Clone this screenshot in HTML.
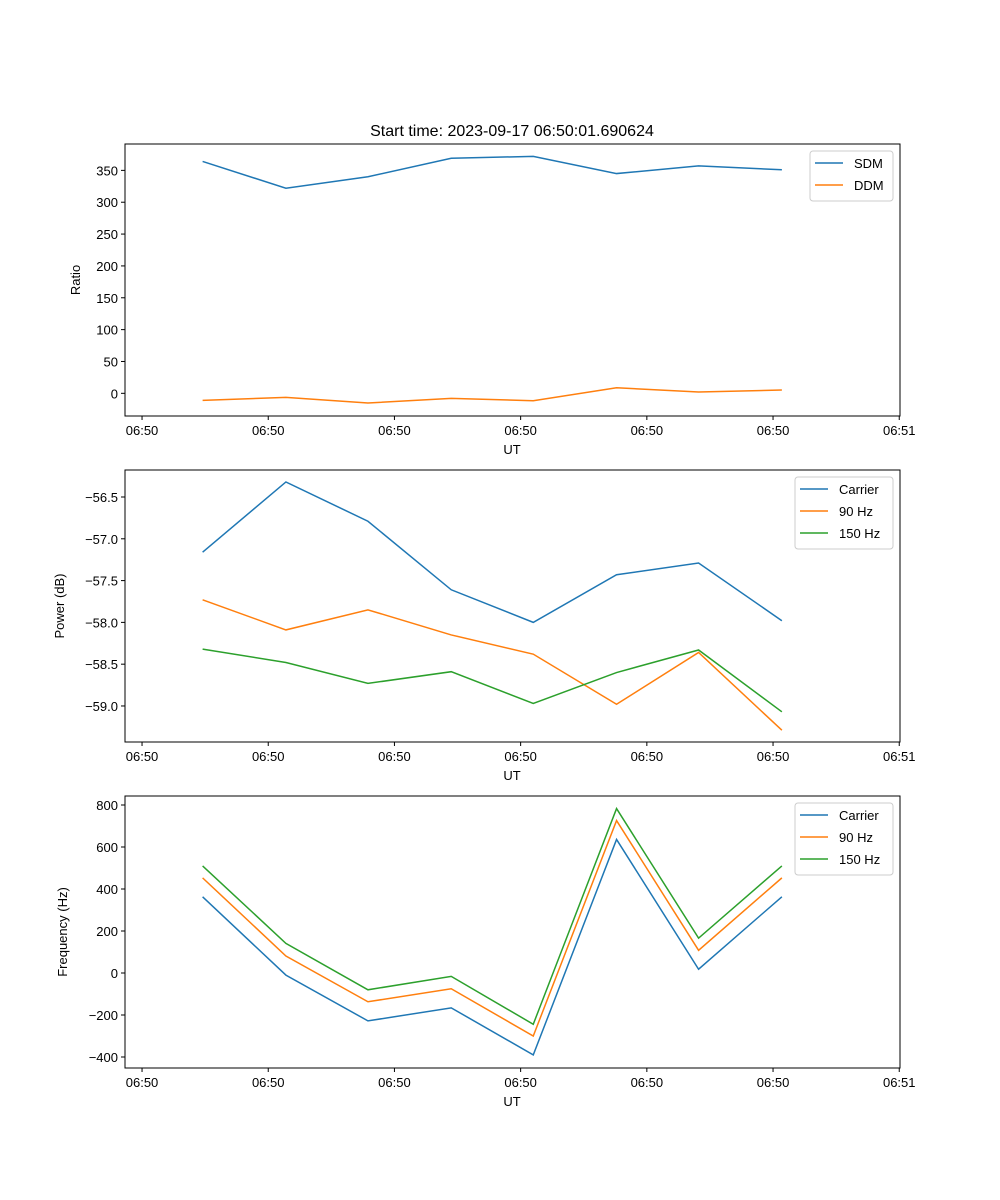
<!DOCTYPE html>
<html><head><meta charset="utf-8"><style>
body{margin:0;background:#fff}
svg{display:block;font-family:"Liberation Sans","DejaVu Sans",sans-serif}
</style></head><body>
<svg id="fig" width="1000" height="1200" viewBox="0 0 1000 1200">
<rect width="1000" height="1200" fill="#fff"/>
<text x="512" y="136" font-size="16" text-anchor="middle">Start time: 2023-09-17 06:50:01.690624</text>
</svg>
<script>
const times = [4.8, 11.4, 17.9, 24.5, 31.0, 37.6, 44.1, 50.7];
const xTicks = [0, 10, 20, 30, 40, 50, 60];
const xTickLabels = ["06:50","06:50","06:50","06:50","06:50","06:50","06:51"];
const sdm = [364, 322, 340, 369, 372, 345, 357, 351];
const ddm = [-11, -6.3, -15.2, -7.9, -11.6, 8.8, 2, 5.2];
const ratioTicks = [0, 50, 100, 150, 200, 250, 300, 350];
const powCarrier = [-57.16, -56.32, -56.79, -57.61, -58.0, -57.43, -57.29, -57.98];
const pow90 = [-57.73, -58.09, -57.85, -58.15, -58.38, -58.98, -58.36, -59.29];
const pow150 = [-58.32, -58.48, -58.73, -58.59, -58.97, -58.60, -58.33, -59.07];
const powTicks = [-56.5, -57.0, -57.5, -58.0, -58.5, -59.0];
const freqCarrier = [363, -10, -228, -166, -390, 636, 18, 363];
const freq90 = [453, 81, -137, -75, -300, 726, 108, 453];
const freq150 = [510, 141, -80, -16, -244, 783, 166, 510];
const freqTicks = [-400, -200, 0, 200, 400, 600, 800];

const NS = "http://www.w3.org/2000/svg";
const svg = document.getElementById('fig');
const C = {blue:"#1f77b4", orange:"#ff7f0e", green:"#2ca02c"};
function el(tag, attrs, parent){const e=document.createElementNS(NS,tag);for(const k in attrs)e.setAttribute(k,attrs[k]);(parent||svg).appendChild(e);return e;}

function panel(cfg){
  const L=125,R=900,T=cfg.top,B=cfg.top+272;
  const xmin=-1.35,xmax=60.06;
  const xs=v=>L+(v-xmin)/(xmax-xmin)*(R-L);
  const ys=v=>B-(v-cfg.ymin)/(cfg.ymax-cfg.ymin)*(B-T);
  const g=el('g',{});
  
  
  cfg.series.forEach(s=>{
    const p=el('polyline',{points:s.vals.map((v,i)=>xs(times[i])+','+ys(v)).join(' '),fill:'none',stroke:s.color,'stroke-width':1.5},g);
    
    
  });
  const frame=el('rect',{x:L,y:T,width:R-L,height:B-T,fill:'none',stroke:'#000','stroke-width':1},g);
  
  
  xTicks.forEach((t,i)=>{
    const x=xs(t);
    el('line',{x1:x,x2:x,y1:B,y2:B+4,stroke:'#000'},g);
    const tx=el('text',{x:x,y:B+19,'font-size':13,'text-anchor':'middle'},g);
    tx.textContent=xTickLabels[i];
    
    
  });
  cfg.yticks.forEach(t=>{
    const y=ys(t);
    el('line',{x1:L-4,x2:L,y1:y,y2:y,stroke:'#000'},g);
    const tx=el('text',{x:L-7,y:y+5,'font-size':13,'text-anchor':'end'},g);
    tx.textContent=cfg.fmt(t);
    
    
  });
  const xl=el('text',{x:512,y:B+38,'font-size':13,'text-anchor':'middle'},g);
  xl.textContent='UT';
  
  
  const yl=el('text',{x:0,y:0,'font-size':13,'text-anchor':'middle',transform:`translate(${cfg.ylx},${(T+B)/2}) rotate(-90)`},g);
  yl.textContent=cfg.ylabel;
  
  
  const lw=cfg.legW, lx=R-7-lw, ly=T+7, lh=cfg.series.length*22+6;
  const lg=el('g',{},g);
  
  
  el('rect',{x:lx,y:ly,width:lw,height:lh,rx:3,fill:'#fff','fill-opacity':0.8,stroke:'#ccc'},lg);
  cfg.series.forEach((s,i)=>{
    const yy=ly+12+i*22;
    el('line',{x1:lx+5,x2:lx+33,y1:yy,y2:yy,stroke:s.color,'stroke-width':1.5},lg);
    const t=el('text',{x:lx+44,y:yy+5,'font-size':13},lg);
    t.textContent=s.label;
    
    
  });
}
panel({name:'ratio-panel',top:144,ymin:-35.6,ymax:391.4,yticks:ratioTicks,fmt:v=>String(v),ylabel:'Ratio',ylx:80,legW:83,
  series:[{id:'sdm',label:'SDM',vals:sdm,color:C.blue},{id:'ddm',label:'DDM',vals:ddm,color:C.orange}]});
panel({name:'power-panel',top:470,ymin:-59.431,ymax:-56.177,yticks:powTicks,fmt:v=>v.toFixed(1).replace('-','−'),ylabel:'Power (dB)',ylx:64,legW:98,
  series:[{id:'carrier-power',label:'Carrier',vals:powCarrier,color:C.blue},{id:'90hz-power',label:'90 Hz',vals:pow90,color:C.orange},{id:'150hz-power',label:'150 Hz',vals:pow150,color:C.green}]});
panel({name:'frequency-panel',top:796,ymin:-452.4,ymax:842.9,yticks:freqTicks,fmt:v=>String(v).replace('-','−'),ylabel:'Frequency (Hz)',ylx:67,legW:98,
  series:[{id:'carrier-freq',label:'Carrier',vals:freqCarrier,color:C.blue},{id:'90hz-freq',label:'90 Hz',vals:freq90,color:C.orange},{id:'150hz-freq',label:'150 Hz',vals:freq150,color:C.green}]});
</script>
</body></html>
